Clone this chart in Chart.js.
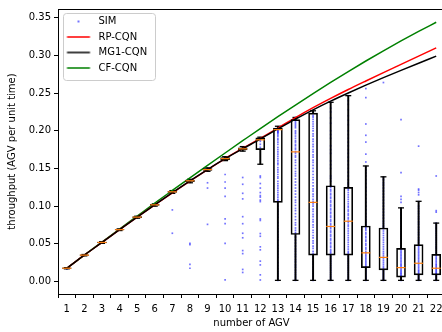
<!DOCTYPE html>
<html>
<head>
<meta charset="utf-8">
<script src="https://cdn.jsdelivr.net/npm/chart.js@4"></script>
<style>
html, body { margin: 0; padding: 0; overflow: hidden; background: #fff; }
canvas { display: block; }
</style>
</head>
<body>
<canvas id="myChart" width="451" height="332"></canvas>
<script>
// number of AGV
const agv = [1, 2, 3, 4, 5, 6, 7, 8, 9, 10, 11, 12, 13, 14, 15, 16, 17, 18, 19, 20, 21, 22];

// analytical models
const rpCqn  = [0.0176, 0.0350, 0.0518, 0.0687, 0.0853, 0.1016, 0.1176, 0.1332, 0.1484, 0.1631, 0.1767, 0.1900, 0.2036, 0.2175, 0.2307, 0.2430, 0.2548, 0.2661, 0.2772, 0.2881, 0.2990, 0.3100];
const mg1Cqn = [0.0176, 0.0350, 0.0518, 0.0687, 0.0853, 0.1016, 0.1178, 0.1336, 0.1486, 0.1630, 0.1762, 0.1890, 0.2024, 0.2155, 0.2278, 0.2393, 0.2501, 0.2605, 0.2705, 0.2802, 0.2897, 0.2990];
const cfCqn  = [0.0176, 0.0351, 0.0523, 0.0696, 0.0868, 0.1040, 0.1208, 0.1375, 0.1541, 0.1705, 0.1868, 0.2030, 0.2188, 0.2342, 0.2494, 0.2642, 0.2786, 0.2926, 0.3061, 0.3192, 0.3318, 0.3440];

// boxplot of the simulation runs
const boxLow  = [0.0168, 0.0340, 0.0506, 0.0676, 0.0840, 0.1000, 0.1170, 0.1310, 0.1462, 0.1604, 0.1730, 0.1556, 0.0015, 0.0015, 0.0015, 0.0015, 0.0015, 0.0015, 0.0015, 0.0015, 0.0015, 0.0015];
const boxQ1   = [0.0172, 0.0346, 0.0513, 0.0683, 0.0848, 0.1010, 0.1182, 0.1326, 0.1475, 0.1618, 0.1745, 0.1750, 0.1050, 0.0623, 0.0350, 0.0350, 0.0350, 0.0184, 0.0154, 0.0058, 0.0088, 0.0088];
const boxMed  = [0.0176, 0.0350, 0.0518, 0.0688, 0.0854, 0.1017, 0.1190, 0.1336, 0.1485, 0.1630, 0.1760, 0.1880, 0.2015, 0.1720, 0.1050, 0.0730, 0.0800, 0.0380, 0.0320, 0.0184, 0.0242, 0.0176];
const boxQ3   = [0.0180, 0.0354, 0.0523, 0.0692, 0.0860, 0.1024, 0.1198, 0.1346, 0.1497, 0.1645, 0.1775, 0.1905, 0.2037, 0.2147, 0.2234, 0.1270, 0.1248, 0.0736, 0.0710, 0.0439, 0.0490, 0.0360];
const boxHigh = [0.0184, 0.0358, 0.0528, 0.0698, 0.0866, 0.1030, 0.1206, 0.1356, 0.1508, 0.1656, 0.1790, 0.1915, 0.2060, 0.2177, 0.2265, 0.2378, 0.2466, 0.1533, 0.1389, 0.0977, 0.1064, 0.0775];

// individual simulation results, one list per AGV count
const simValues = [
  [0.0165, 0.0176, 0.0180],
  [0.0348, 0.0352],
  [0.0516, 0.0520],
  [0.0686, 0.0690],
  [0.0852, 0.0856],
  [0.1014, 0.1019],
  [0.1185, 0.1195, 0.0950, 0.0640],
  [0.1330, 0.1340, 0.0505, 0.0490, 0.0228, 0.0176],
  [0.1480, 0.1490, 0.1310, 0.1240, 0.0758],
  [0.1625, 0.1640, 0.1420, 0.1320, 0.1240, 0.1130, 0.0830, 0.0767, 0.0505, 0.0022],
  [0.1755, 0.1770, 0.1380, 0.1290, 0.1170, 0.1096, 0.0860, 0.0767, 0.0640, 0.0580, 0.0410, 0.0370, 0.0160, 0.0120],
  [0.1880, 0.1890, 0.1900, 0.1860, 0.1820, 0.1780, 0.1400, 0.1380, 0.1300, 0.1240, 0.1180, 0.1140, 0.1120, 0.1080, 0.1060, 0.0830, 0.0810, 0.0636, 0.0600, 0.0460, 0.0420, 0.0270, 0.0220, 0.0088, 0.0020],
  [0.2035, 0.2020, 0.2015, 0.2000, 0.1980, 0.1950, 0.1900, 0.1850, 0.1780, 0.1720, 0.1660, 0.1600, 0.1550, 0.1480, 0.1420, 0.1370, 0.1300, 0.1240, 0.1180, 0.1120, 0.1070, 0.1000, 0.0930, 0.0850, 0.0780, 0.0700, 0.0620, 0.0550, 0.0480, 0.0400, 0.0320, 0.0250, 0.0170, 0.0100, 0.0040, 0.0015,
   0.2030, 0.2025, 0.2010, 0.1990, 0.1970, 0.1930, 0.1880, 0.1820, 0.1750, 0.1690, 0.1630, 0.1570, 0.1510, 0.1450, 0.1390, 0.1330, 0.1270, 0.1210, 0.1150, 0.1090, 0.0960, 0.0890, 0.0740, 0.0660, 0.0590, 0.0440, 0.0360, 0.0210, 0.0130, 0.0070],
  [0.2177, 0.2150, 0.2120, 0.2080, 0.2040, 0.2000, 0.1960, 0.1900, 0.1850, 0.1800, 0.1750, 0.1700, 0.1650, 0.1580, 0.1500, 0.1430, 0.1360, 0.1280, 0.1200, 0.1120, 0.1050, 0.0970, 0.0900, 0.0820, 0.0750, 0.0680, 0.0630, 0.0550, 0.0470, 0.0400, 0.0330, 0.0260, 0.0190, 0.0120, 0.0060, 0.0015,
   0.2160, 0.2100, 0.2060, 0.1980, 0.1930, 0.1870, 0.1820, 0.1770, 0.1720, 0.1670, 0.1610, 0.1540, 0.1460, 0.1400, 0.1320, 0.1240, 0.1160, 0.1080, 0.1010, 0.0940, 0.0860, 0.0780, 0.0710, 0.0650, 0.0590, 0.0510, 0.0430, 0.0360, 0.0290, 0.0220, 0.0150, 0.0090, 0.0030],
  [0.2265, 0.2230, 0.2180, 0.2120, 0.2060, 0.2000, 0.1930, 0.1860, 0.1790, 0.1720, 0.1650, 0.1580, 0.1500, 0.1420, 0.1350, 0.1270, 0.1200, 0.1130, 0.1060, 0.1000, 0.0930, 0.0860, 0.0790, 0.0720, 0.0650, 0.0580, 0.0510, 0.0440, 0.0370, 0.0300, 0.0230, 0.0160, 0.0100, 0.0050, 0.0015,
   0.2250, 0.2200, 0.2150, 0.2090, 0.2030, 0.1960, 0.1890, 0.1820, 0.1750, 0.1680, 0.1610, 0.1540, 0.1460, 0.1380, 0.1310, 0.1230, 0.1160, 0.1090, 0.1030, 0.0960, 0.0890, 0.0820, 0.0750, 0.0680, 0.0610, 0.0540, 0.0470, 0.0400, 0.0330, 0.0260, 0.0190, 0.0130, 0.0070, 0.0030],
  [0.2378, 0.2250, 0.2100, 0.2000, 0.1900, 0.1800, 0.1700, 0.1600, 0.1500, 0.1400, 0.1330, 0.1250, 0.1200, 0.1150, 0.1100, 0.1050, 0.1000, 0.0950, 0.0900, 0.0850, 0.0800, 0.0750, 0.0700, 0.0650, 0.0600, 0.0550, 0.0500, 0.0450, 0.0400, 0.0360, 0.0300, 0.0240, 0.0180, 0.0120, 0.0060, 0.0015,
   0.2300, 0.2170, 0.1950, 0.1750, 0.1550, 0.1370, 0.1270, 0.1220, 0.1170, 0.1120, 0.1070, 0.1020, 0.0970, 0.0920, 0.0870, 0.0820, 0.0770, 0.0720, 0.0670, 0.0620, 0.0570, 0.0520, 0.0470, 0.0420, 0.0380, 0.0330, 0.0270, 0.0210, 0.0150, 0.0090, 0.0030],
  [0.2466, 0.2350, 0.2200, 0.2080, 0.1950, 0.1850, 0.1750, 0.1650, 0.1550, 0.1450, 0.1350, 0.1290, 0.1230, 0.1180, 0.1120, 0.1060, 0.1000, 0.0950, 0.0900, 0.0850, 0.0800, 0.0750, 0.0700, 0.0640, 0.0580, 0.0520, 0.0460, 0.0400, 0.0360, 0.0300, 0.0240, 0.0180, 0.0120, 0.0060, 0.0015,
   0.2400, 0.2280, 0.2140, 0.2000, 0.1900, 0.1800, 0.1700, 0.1600, 0.1500, 0.1400, 0.1310, 0.1260, 0.1210, 0.1150, 0.1090, 0.1030, 0.0980, 0.0930, 0.0880, 0.0830, 0.0780, 0.0730, 0.0670, 0.0610, 0.0550, 0.0490, 0.0430, 0.0380, 0.0330, 0.0270, 0.0210, 0.0150, 0.0090, 0.0030],
  [0.2560, 0.2440, 0.2090, 0.1940, 0.1850, 0.1690, 0.1586, 0.1480, 0.1400, 0.1300, 0.1200, 0.1100, 0.1000, 0.0900, 0.0820, 0.0760, 0.0720, 0.0680, 0.0630, 0.0580, 0.0530, 0.0480, 0.0430, 0.0380, 0.0340, 0.0300, 0.0260, 0.0220, 0.0190, 0.0150, 0.0110, 0.0070, 0.0040, 0.0015,
   0.1520, 0.1440, 0.1350, 0.1250, 0.1150, 0.1050, 0.0950, 0.0860, 0.0790, 0.0740, 0.0700, 0.0650, 0.0600, 0.0550, 0.0500, 0.0450, 0.0400, 0.0360, 0.0320, 0.0280, 0.0240, 0.0200, 0.0170, 0.0130, 0.0090, 0.0055, 0.0025],
  [0.2640, 0.1350, 0.1280, 0.1200, 0.1120, 0.1040, 0.0960, 0.0880, 0.0800, 0.0740, 0.0700, 0.0640, 0.0580, 0.0520, 0.0460, 0.0400, 0.0350, 0.0300, 0.0250, 0.0200, 0.0160, 0.0120, 0.0080, 0.0040, 0.0015,
   0.1380, 0.1310, 0.1240, 0.1160, 0.1080, 0.1000, 0.0920, 0.0840, 0.0770, 0.0720, 0.0670, 0.0610, 0.0550, 0.0490, 0.0430, 0.0375, 0.0325, 0.0275, 0.0225, 0.0180, 0.0140, 0.0100, 0.0060, 0.0025],
  [0.2147, 0.1445, 0.1130, 0.1090, 0.1050, 0.0950, 0.0880, 0.0800, 0.0730, 0.0660, 0.0600, 0.0540, 0.0480, 0.0430, 0.0390, 0.0350, 0.0310, 0.0270, 0.0230, 0.0200, 0.0160, 0.0130, 0.0100, 0.0070, 0.0040, 0.0015,
   0.0970, 0.0910, 0.0840, 0.0770, 0.0700, 0.0630, 0.0570, 0.0510, 0.0450, 0.0410, 0.0370, 0.0330, 0.0290, 0.0250, 0.0215, 0.0180, 0.0145, 0.0115, 0.0085, 0.0055, 0.0025],
  [0.1796, 0.1227, 0.1210, 0.1180, 0.1150, 0.1000, 0.0930, 0.0860, 0.0790, 0.0720, 0.0650, 0.0580, 0.0520, 0.0470, 0.0430, 0.0390, 0.0350, 0.0310, 0.0270, 0.0230, 0.0190, 0.0150, 0.0120, 0.0090, 0.0050, 0.0015,
   0.1060, 0.0970, 0.0900, 0.0830, 0.0760, 0.0690, 0.0620, 0.0550, 0.0490, 0.0450, 0.0410, 0.0370, 0.0330, 0.0290, 0.0250, 0.0210, 0.0170, 0.0135, 0.0105, 0.0070, 0.0030],
  [0.1400, 0.0940, 0.0920, 0.0750, 0.0700, 0.0640, 0.0580, 0.0520, 0.0460, 0.0410, 0.0350, 0.0310, 0.0270, 0.0230, 0.0200, 0.0170, 0.0140, 0.0110, 0.0090, 0.0050, 0.0015,
   0.0775, 0.0720, 0.0670, 0.0610, 0.0550, 0.0490, 0.0440, 0.0380, 0.0330, 0.0290, 0.0250, 0.0215, 0.0185, 0.0155, 0.0125, 0.0100, 0.0070, 0.0030]
];

const yTicks = [0, 0.05, 0.10, 0.15, 0.20, 0.25, 0.30, 0.35];

function pts(ys) {
  return agv.map((x, i) => ({x: x, y: ys[i]}));
}

var simPoints = [];
for (var i = 0; i < agv.length; i++) {
  for (var j = 0; j < simValues[i].length; j++) {
    simPoints.push({x: agv[i], y: simValues[i][j]});
  }
}

var whiskers = [];
var caps = [];
for (var i = 0; i < agv.length; i++) {
  whiskers.push({x: agv[i], y: [boxLow[i], boxQ1[i]]});
  whiskers.push({x: agv[i], y: [boxQ3[i], boxHigh[i]]});
  caps.push({x: agv[i], y: boxLow[i]});
  caps.push({x: agv[i], y: boxHigh[i]});
}
var boxes = agv.map((x, i) => ({x: x, y: [boxQ1[i], boxQ3[i]]}));

// little legend icons
function legendIcon(color, dot) {
  var c = document.createElement('canvas');
  c.width = 30; c.height = 4;
  var g = c.getContext('2d');
  g.fillStyle = color;
  if (dot) {
    g.fillRect(14, 1, 2, 2);
  } else {
    g.fillRect(3.5, 1.25, 23, 1.5);
  }
  return c;
}

const legendItems = [
  {text: 'SIM', pointStyle: legendIcon('rgba(0,0,255,0.55)', true)},
  {text: 'RP-CQN', pointStyle: legendIcon('#ff0000')},
  {text: 'MG1-CQN', pointStyle: legendIcon('#000000')},
  {text: 'CF-CQN', pointStyle: legendIcon('#008000')}
];

// push the legend a little down, like the original
const legendShift = {
  id: 'legendShift',
  afterLayout(chart) {
    const lg = chart.legend;
    lg.top += 11;
    lg.bottom += 11;
    (lg.legendHitBoxes || []).forEach(h => { h.top += 11; });
  }
};

const legendFrame = {
  id: 'legendFrame',
  beforeDraw(chart) {
    const hb = chart.legend.legendHitBoxes;
    if (!hb || !hb.length) return;
    var l = Infinity, t = Infinity, r = -Infinity, b = -Infinity;
    hb.forEach(h => {
      l = Math.min(l, h.left); t = Math.min(t, h.top);
      r = Math.max(r, h.left + h.width); b = Math.max(b, h.top + h.height);
    });
    const ctx = chart.ctx;
    ctx.save();
    ctx.beginPath();
    ctx.roundRect(Math.round(l) - 0.5, Math.round(t - 3.5) + 0.5, Math.round(r - l + 8), Math.round(b - t + 10), 3);
    ctx.fillStyle = 'rgba(255,255,255,0.8)';
    ctx.fill();
    ctx.strokeStyle = '#cccccc';
    ctx.lineWidth = 1;
    ctx.stroke();
    ctx.restore();
  }
};

const spines = {
  id: 'spines',
  afterDatasetsDraw(chart) {
    const a = chart.chartArea;
    const ctx = chart.ctx;
    ctx.save();
    ctx.strokeStyle = '#000';
    ctx.lineWidth = 1;
    ctx.strokeRect(Math.round(a.left) + 0.5, Math.round(a.top) + 0.5, Math.round(a.right - a.left), Math.round(a.bottom - a.top));
    ctx.restore();
  }
};

Chart.defaults.font.family = 'DejaVu Sans';
Chart.defaults.font.size = 10;
Chart.defaults.color = '#000';

var ctx = document.getElementById('myChart').getContext('2d');
var chart = new Chart(ctx, {
  type: 'scatter',
  data: {
    datasets: [
      {
        type: 'line', label: 'RP-CQN', data: pts(rpCqn),
        borderColor: '#ff0000', borderWidth: 1.5, pointRadius: 0,
        cubicInterpolationMode: 'monotone', order: 4
      },
      {
        type: 'line', label: 'MG1-CQN', data: pts(mg1Cqn),
        borderColor: '#000000', borderWidth: 1.5, pointRadius: 0,
        cubicInterpolationMode: 'monotone', order: 3
      },
      {
        type: 'line', label: 'CF-CQN', data: pts(cfCqn),
        borderColor: '#008000', borderWidth: 1.5, pointRadius: 0,
        cubicInterpolationMode: 'monotone', order: 5
      },
      {
        type: 'bar', label: 'whiskers', data: whiskers,
        backgroundColor: '#000', borderWidth: 0, barThickness: 1.3,
        grouped: false, order: 7
      },
      {
        type: 'bar', label: 'box', data: boxes,
        backgroundColor: 'rgba(0,0,0,0)', borderColor: '#000', borderWidth: 1,
        borderSkipped: false, barThickness: 9, grouped: false, order: 2
      },
      {
        type: 'scatter', label: 'caps', data: caps,
        pointStyle: 'line', pointRadius: 3, borderColor: '#000', borderWidth: 1.3,
        order: 6
      },
      {
        type: 'scatter', label: 'SIM', data: simPoints,
        pointStyle: 'rect', pointRadius: 1.2, borderWidth: 0,
        backgroundColor: 'rgba(0,0,255,0.55)', order: 8
      },
      {
        type: 'scatter', label: 'median', data: pts(boxMed),
        pointStyle: 'line', pointRadius: 4.5, borderColor: '#ff7f0e', borderWidth: 1.2,
        order: 1
      }
    ]
  },
  options: {
    responsive: false,
    animation: false,
    layout: {padding: {top: 6, right: 6, left: 0, bottom: 0}},
    plugins: {
      tooltip: {enabled: false},
      legend: {
        position: 'chartArea',
        align: 'start',
        onClick: null,
        labels: {
          usePointStyle: true,
          pointStyleWidth: 30,
          padding: 5.5,
          font: {size: 10},
          color: '#000',
          generateLabels: () => legendItems.map((it, k) => ({
            text: it.text, pointStyle: it.pointStyle, fillStyle: '#000',
            strokeStyle: '#000', lineWidth: 0, hidden: false, datasetIndex: k
          }))
        }
      }
    },
    scales: {
      x: {
        type: 'linear', min: 0.5, max: 22.5, offset: false,
        afterFit: s => { s.height = 38; },
        afterBuildTicks: s => { s.ticks = agv.map(v => ({value: v})); },
        ticks: {padding: 5, autoSkip: false, maxRotation: 0, callback: v => String(v)},
        grid: {drawOnChartArea: false, drawTicks: true, tickLength: 4, tickColor: '#000'},
        border: {display: false},
        title: {display: true, text: 'number of AGV', padding: {top: 0, bottom: 3}}
      },
      y: {
        type: 'linear', min: -0.0166, max: 0.3616,
        afterFit: s => { s.width = 58; },
        afterBuildTicks: s => { s.ticks = yTicks.map(v => ({value: v})); },
        ticks: {padding: 3, callback: v => v.toFixed(2)},
        grid: {drawOnChartArea: false, drawTicks: true, tickLength: 4, tickColor: '#000'},
        border: {display: false},
        title: {display: true, text: 'throughput (AGV per unit time)', padding: {top: 6, bottom: 0}}
      }
    }
  },
  plugins: [legendShift, legendFrame, spines]
});
</script>
</body>
</html>
